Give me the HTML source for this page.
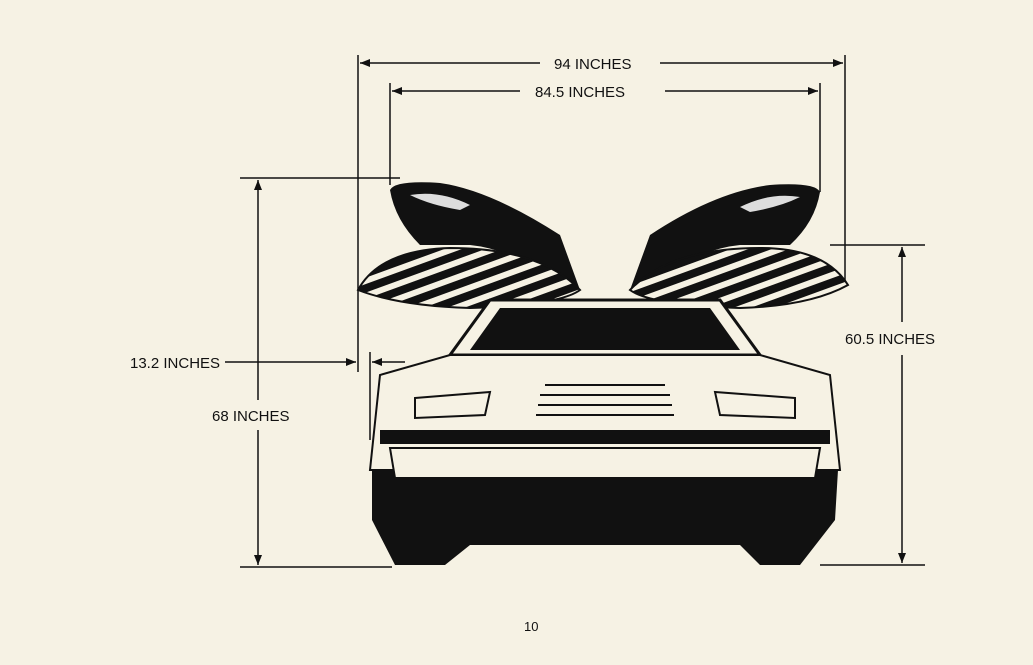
<!DOCTYPE html>
<html><head><meta charset="utf-8"><style>
html,body{margin:0;padding:0;background:#f6f2e4;}
svg{display:block}
text{font-family:"Liberation Sans",sans-serif;font-size:15px;fill:#111;}
</style></head><body>
<svg width="1033" height="665" viewBox="0 0 1033 665">
<defs>
<marker id="a" markerWidth="10" markerHeight="8" refX="10" refY="4" orient="auto-start-reverse" markerUnits="userSpaceOnUse"><path d="M0,0 L10,4 L0,8 z" fill="#111"/></marker>
<pattern id="st" width="14" height="14" patternUnits="userSpaceOnUse" patternTransform="rotate(70)"><rect width="14" height="14" fill="#f6f2e4"/><rect width="8" height="14" fill="#111"/></pattern>
</defs>
<rect width="1033" height="665" fill="#f6f2e4"/>
<g stroke="#111" stroke-width="1.5" fill="none">
<!-- extension lines -->
<line x1="358" y1="55" x2="358" y2="372"/>
<line x1="845" y1="55" x2="845" y2="285"/>
<line x1="390" y1="83" x2="390" y2="185"/>
<line x1="820" y1="83" x2="820" y2="192"/>
<line x1="240" y1="178" x2="400" y2="178"/>
<line x1="240" y1="567" x2="392" y2="567"/>
<line x1="830" y1="245" x2="925" y2="245"/>
<line x1="820" y1="565" x2="925" y2="565"/>
<line x1="370" y1="352" x2="370" y2="440"/>
<!-- dimension lines -->
<line x1="360" y1="63" x2="540" y2="63" marker-start="url(#a)"/>
<line x1="660" y1="63" x2="843" y2="63" marker-end="url(#a)"/>
<line x1="392" y1="91" x2="520" y2="91" marker-start="url(#a)"/>
<line x1="665" y1="91" x2="818" y2="91" marker-end="url(#a)"/>
<line x1="258" y1="180" x2="258" y2="400" marker-start="url(#a)"/>
<line x1="258" y1="430" x2="258" y2="565" marker-end="url(#a)"/>
<line x1="902" y1="247" x2="902" y2="322" marker-start="url(#a)"/>
<line x1="902" y1="355" x2="902" y2="563" marker-end="url(#a)"/>
<line x1="225" y1="362" x2="356" y2="362" marker-end="url(#a)"/>
<line x1="405" y1="362" x2="372" y2="362" marker-end="url(#a)"/>
</g>
<text x="554" y="69">94 INCHES</text>
<text x="535" y="97">84.5 INCHES</text>
<text x="130" y="368">13.2 INCHES</text>
<text x="212" y="421">68 INCHES</text>
<text x="845" y="344">60.5 INCHES</text>
<text x="524" y="631" style="font-size:13px">10</text>
<!-- doors -->
<path d="M390,190 Q395,180 440,183 Q490,190 560,235 L580,290 L560,292 Q520,250 470,245 L420,245 Q395,220 390,190z" fill="#111"/>
<path d="M820,192 Q815,182 770,185 Q715,192 650,235 L630,290 L650,292 Q690,250 740,245 L790,245 Q815,222 820,192z" fill="#111"/>
<path d="M410,195 Q440,190 470,205 L460,210 Q430,205 410,195z" fill="#ddd"/>
<path d="M800,197 Q770,192 740,207 L750,212 Q780,207 800,197z" fill="#ddd"/>
<path d="M358,290 Q380,250 450,248 Q540,248 580,290 Q560,305 470,308 Q400,306 358,290z" fill="url(#st)" stroke="#111" stroke-width="2"/>
<path d="M848,285 Q825,248 760,248 Q670,248 630,290 Q650,305 740,308 Q810,306 848,285z" fill="url(#st)" stroke="#111" stroke-width="2"/>
<!-- car body -->
<path d="M490,300 L720,300 L760,355 L450,355z" fill="#f6f2e4" stroke="#111" stroke-width="3"/>
<path d="M500,308 L710,308 L740,350 L470,350z" fill="#111"/>
<path d="M450,355 L760,355 L830,375 L840,470 L370,470 L380,375z" fill="#f6f2e4" stroke="#111" stroke-width="2"/>
<path d="M415,398 L490,392 L485,415 L415,418z" fill="none" stroke="#111" stroke-width="2"/>
<path d="M795,398 L715,392 L720,415 L795,418z" fill="none" stroke="#111" stroke-width="2"/>
<g stroke="#111" stroke-width="2"><line x1="545" y1="385" x2="665" y2="385"/><line x1="540" y1="395" x2="670" y2="395"/><line x1="538" y1="405" x2="672" y2="405"/><line x1="536" y1="415" x2="674" y2="415"/></g>
<rect x="380" y="430" width="450" height="14" fill="#111"/>
<path d="M372,470 L838,470 L835,520 L800,565 L760,565 L740,545 L470,545 L445,565 L395,565 L372,520z" fill="#111"/>
<path d="M390,448 L820,448 L815,478 L395,478z" fill="#f6f2e4" stroke="#111" stroke-width="2"/>
</svg>
</body></html>
